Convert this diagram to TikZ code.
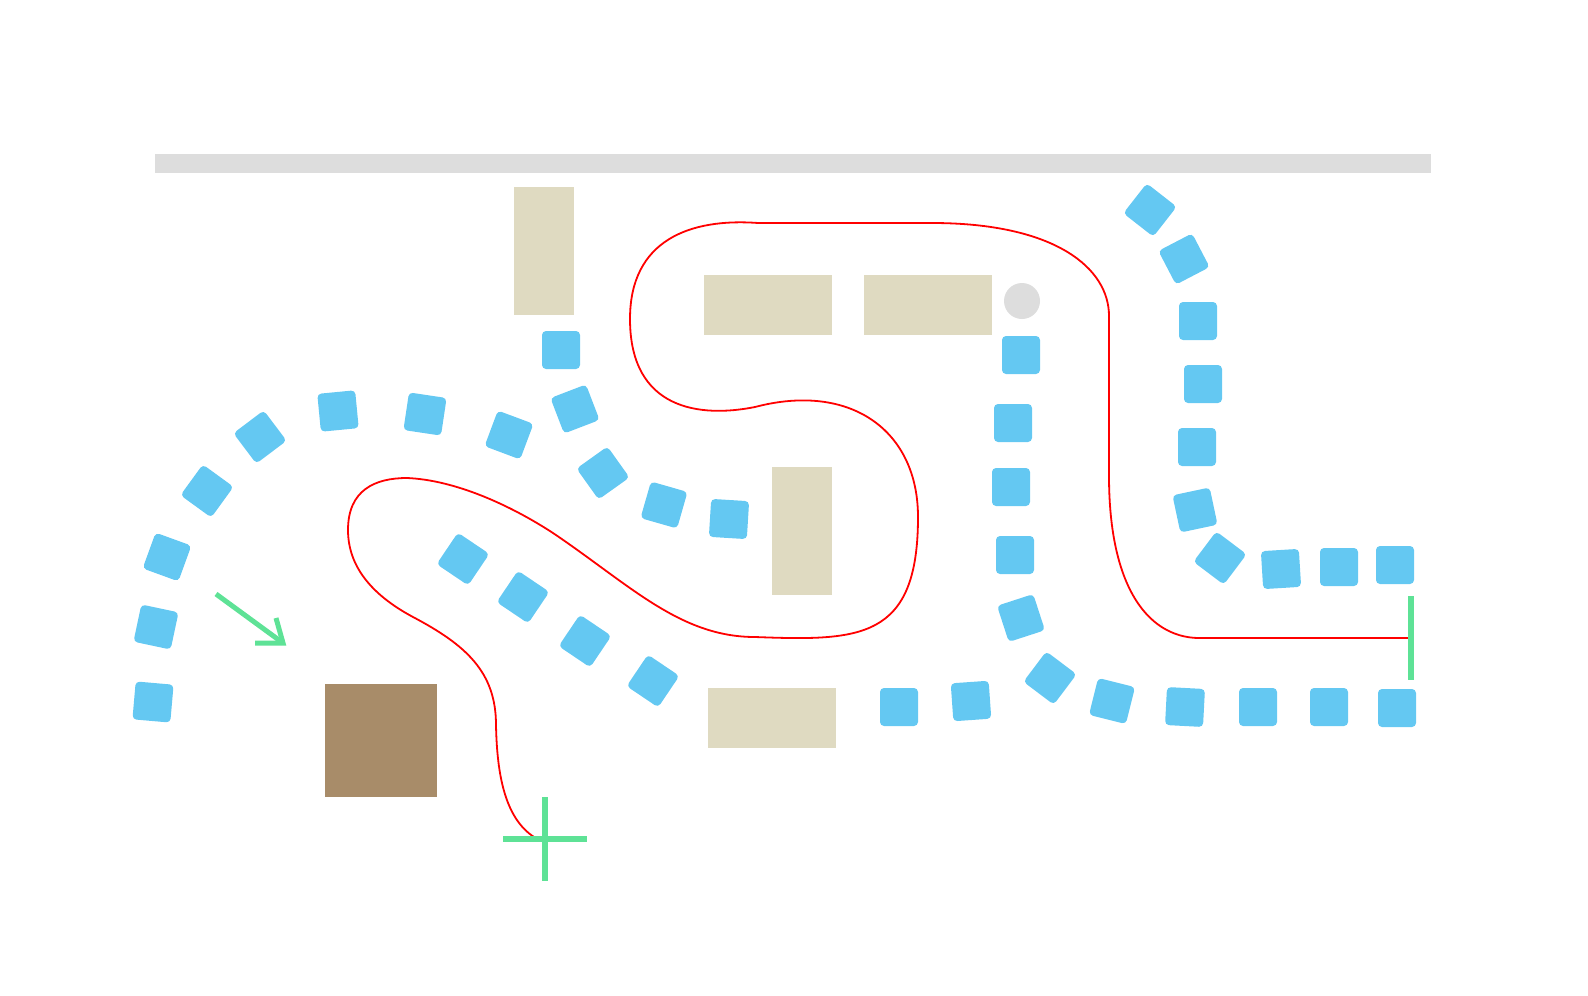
\documentclass[tikz,border=0pt]{standalone}
\usepackage{tikz}
\tikzset{
cone/.style= {rectangle, rounded corners=4pt, fill=Cone, minimum size=38pt, inner sep=0pt},
wide/.style= {rectangle, fill=Block, minimum width=128pt, minimum height=60pt, inner sep=0pt},
tall/.style= {rectangle, fill=Block, minimum width=60pt, minimum height=128pt, inner sep=0pt},
marker/.style= {draw=Marker, line width=6pt},
route/.style= {draw=red, line width=1.8pt}
}
\definecolor{Cone}{HTML}{64C8F2}
\definecolor{Block}{HTML}{DFDAC1}
\definecolor{Crate}{HTML}{A88C69}
\definecolor{Rail}{HTML}{DDDDDD}
\definecolor{Marker}{HTML}{5EE296}

\begin{document}
\begin{tikzpicture}[x=1pt, y=-1pt]
    \useasboundingbox (0,0) rectangle (1588,996);

    \node[fill=Rail, minimum width=1276pt, minimum height=19pt, inner sep=0pt] (rail) at (793,163.5) {};
    \node[tall] (b1) at (544,251) {};
    \node[wide] (b2) at (768,305) {};
    \node[wide] (b3) at (928,305) {};
    \node[tall] (b4) at (802,531) {};
    \node[wide] (b5) at (772,717.5) {};
    \node[fill=Crate, minimum width=112pt, minimum height=113pt, inner sep=0pt] (crate) at (380.5,740.5) {};
    \node[circle, fill=Rail, minimum size=36pt, inner sep=0pt] (post) at (1022,301) {};

    \foreach \x/\y/\a [count=\i] in {153/702/-5, 156/627/-12, 167/557/-20, 207/491/-36, 260/437/37,
        338/411/5.5, 425/414/-8.5, 509/435/-20.5, 575/409/21, 561/350/0, 603/473/35.5, 664/505/-16, 729/519/-3.5,
        463/559/-34, 523/597/-34, 585/641/-34, 653/681/-34}
        \node[cone, rotate=\a] (l\i) at (\x,\y) {};

    \foreach \x/\y/\a [count=\i] in {1021/355/0, 1013/423/0, 1011/487/0, 1015/555/0, 1021/618/18, 1050/678/-37,
        1112/701/-14, 1185/707/-3, 1258/707/0, 1329/707/0, 1397/708/0, 899/707/0, 971/701/4}
        \node[cone, rotate=\a] (m\i) at (\x,\y) {};

    \foreach \x/\y/\a [count=\i] in {1150/210/-38, 1184/259/27.5, 1198/321/0, 1203/384/0, 1197/447/0,
        1195/510/12, 1220/558/-37, 1281/569/3.5, 1339/567/0, 1395/565/0}
        \node[cone, rotate=\a] (r\i) at (\x,\y) {};

    \draw[route] (534,837) .. controls (505,818) and (497,775) .. (496,725)
        .. controls (496,672) and (466,645) .. (413,617)
        .. controls (370,594) and (348,565) .. (348,530)
        .. controls (348,490) and (375,478) .. (407,478)
        .. controls (455,480) and (510,505) .. (553,533)
        .. controls (630,585) and (680,637) .. (755,637)
        .. controls (860,641) and (918,640) .. (918,517)
        .. controls (918,430) and (850,382) .. (755,407)
        .. controls (700,418) and (630,410) .. (630,319)
        .. controls (630,240) and (690,218) .. (758,223)
        -- (932,223)
        .. controls (1055,223) and (1109,268) .. (1109,316)
        -- (1109,476)
        .. controls (1109,590) and (1150,640) .. (1203,638)
        -- (1410,638);

    \draw[marker] (545,797) -- (545,881);
    \draw[marker] (503,839) -- (587,839);
    \draw[marker, line width=5.5pt] (1411,596) -- (1411,680);
    \draw[marker, line width=5pt] (216,594) -- (283,643);
    \draw[marker, line width=5pt] (276,618) -- (283,643) -- (255,643);
\end{tikzpicture}
\end{document}
